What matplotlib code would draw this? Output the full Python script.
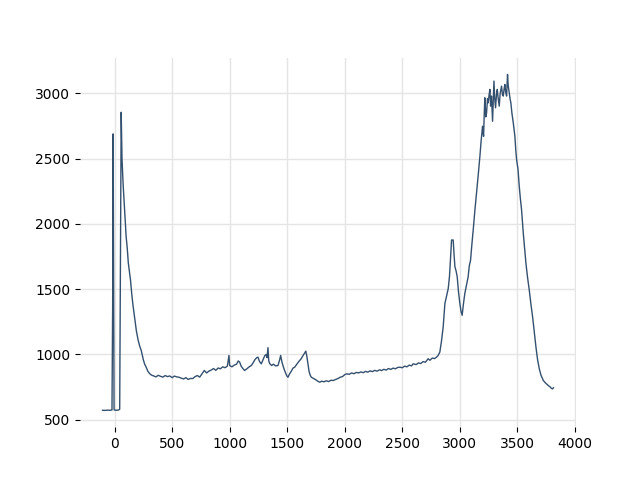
import numpy as np
import matplotlib
matplotlib.use("Agg")
import matplotlib.pyplot as plt

# spectrum (shift, intensity)
shift_start=[-104, -80, -60, -40, -22, -16, -12, -8, -4, 5, 20, 35, 45, 52, 58,
             65, 75, 85, 101, 110, 120, 139, 150, 160, 174, 190, 205, 220, 232,
             250, 262, 275, 290, 304]
counts_start=[572, 571, 573, 572, 574, 1400, 2690, 1500, 576, 573, 572, 574, 580, 1900, 2856,
              2500, 2300, 2150, 1902, 1820, 1700, 1569, 1460, 1380, 1287, 1180, 1110, 1060, 1031,
              960, 925, 902, 870, 854]

shift_mid=[320, 340, 360, 380, 400, 420, 440, 460, 480, 500, 520, 540, 560, 580, 600,
           620, 640, 660, 680, 700, 720, 740, 760, 780, 800, 820, 840, 860, 880, 900,
           920, 940, 960, 980, 994, 1000, 1020, 1040, 1060, 1075, 1087, 1100, 1115, 1130,
           1150, 1170, 1188, 1200, 1220, 1235, 1246, 1260, 1275, 1290, 1305, 1318, 1325,
           1333, 1340, 1348, 1365, 1380, 1400, 1420, 1435, 1443, 1455, 1470, 1485, 1497,
           1507, 1520, 1535, 1550, 1565, 1580, 1600, 1620, 1640, 1655, 1661, 1670, 1680,
           1690, 1700, 1710, 1730, 1750, 1765, 1783, 1800, 1820, 1840, 1860, 1880, 1899,
           1920, 1940, 1960, 1980, 2000, 2015, 2040, 2060, 2080, 2100, 2120, 2140, 2160,
           2180, 2200, 2220, 2240, 2260, 2280, 2304, 2320, 2340, 2360, 2380, 2400, 2420,
           2440, 2460, 2478, 2500, 2520, 2540, 2560, 2580, 2594, 2620, 2640, 2660, 2680,
           2700, 2725, 2740, 2760, 2780, 2797, 2810]
counts_mid=[842, 835, 828, 840, 832, 826, 838, 830, 835, 822, 834, 828, 825, 818, 812,
            822, 808, 816, 815, 830, 838, 826, 852, 877, 858, 872, 880, 892, 878, 896,
            890, 905, 898, 910, 992, 915, 905, 918, 925, 950, 941, 910, 892, 877,
            890, 905, 915, 930, 960, 975, 979, 945, 928, 960, 990, 1000, 975,
            1052, 950, 930, 915, 925, 912, 915, 960, 992, 940, 895, 860, 835,
            825, 850, 870, 895, 902, 920, 945, 965, 995, 1015, 1025, 990, 930,
            870, 840, 825, 815, 805, 795, 787, 795, 790, 798, 792, 802, 800,
            808, 815, 825, 830, 845, 851, 848, 858, 852, 862, 858, 866, 860,
            870, 864, 874, 868, 878, 872, 882, 876, 886, 880, 892, 885, 895,
            890, 900, 902, 898, 910, 905, 918, 912, 928, 922, 935, 930, 945,
            940, 967, 955, 972, 968, 979, 990]

shift_end=[2826, 2840, 2855, 2870, 2885, 2899, 2910, 2920, 2928, 2942, 2950, 2957, 2967,
           2977, 2988, 3000, 3010, 3020, 3030, 3043, 3055, 3072, 3082, 3093, 3105, 3116,
           3130, 3145, 3160, 3174, 3185, 3197, 3206, 3212, 3217, 3225, 3232, 3240, 3246,
           3254, 3261, 3267, 3275, 3284, 3290, 3296, 3303, 3310, 3318, 3325, 3333, 3342,
           3350, 3362, 3370, 3377, 3385, 3391, 3398, 3406, 3414, 3420, 3429, 3436, 3443,
           3452, 3464, 3478, 3486, 3493, 3505, 3516, 3525, 3536, 3545, 3551, 3562, 3574,
           3588, 3603, 3618, 3632, 3645, 3661, 3675, 3690, 3705, 3725, 3745, 3768, 3785,
           3795, 3806, 3813]
counts_end=[1018, 1100, 1210, 1390, 1450, 1505, 1600, 1750, 1877, 1877, 1760, 1672, 1640,
            1595, 1480, 1390, 1330, 1300, 1380, 1467, 1520, 1595, 1680, 1723, 1850, 1954,
            2100, 2236, 2380, 2518, 2640, 2749, 2672, 2850, 2967, 2820, 2851, 2960, 2928,
            2990, 3031, 2903, 2980, 2787, 2950, 3095, 2960, 2890, 2990, 3031, 2960, 2903,
            3000, 3056, 2990, 2980, 3040, 3069, 3010, 2980, 3146, 3060, 3005, 2960, 2928,
            2850, 2774, 2672, 2560, 2492, 2420, 2287, 2200, 2108, 2000, 1928, 1820, 1698,
            1590, 1492, 1380, 1287, 1180, 1056, 960, 890, 840, 800, 780, 762, 750,
            740, 736, 745]

shift=np.array(shift_start+shift_mid+shift_end)
counts=np.array(counts_start+counts_mid+counts_end)

fig, ax=plt.subplots(figsize=(6.4, 4.8), dpi=100)
ax.plot(shift, counts, color="#34506f", linewidth=1)
ax.grid(True, color="#e5e5e5", linewidth=1)
ax.set_axisbelow(True)
for s in ax.spines.values():
    s.set_visible(False)
ax.set_xticks([0, 500, 1000, 1500, 2000, 2500, 3000, 3500, 4000])
ax.set_yticks([500, 1000, 1500, 2000, 2500, 3000])
fig.savefig("out.png")
